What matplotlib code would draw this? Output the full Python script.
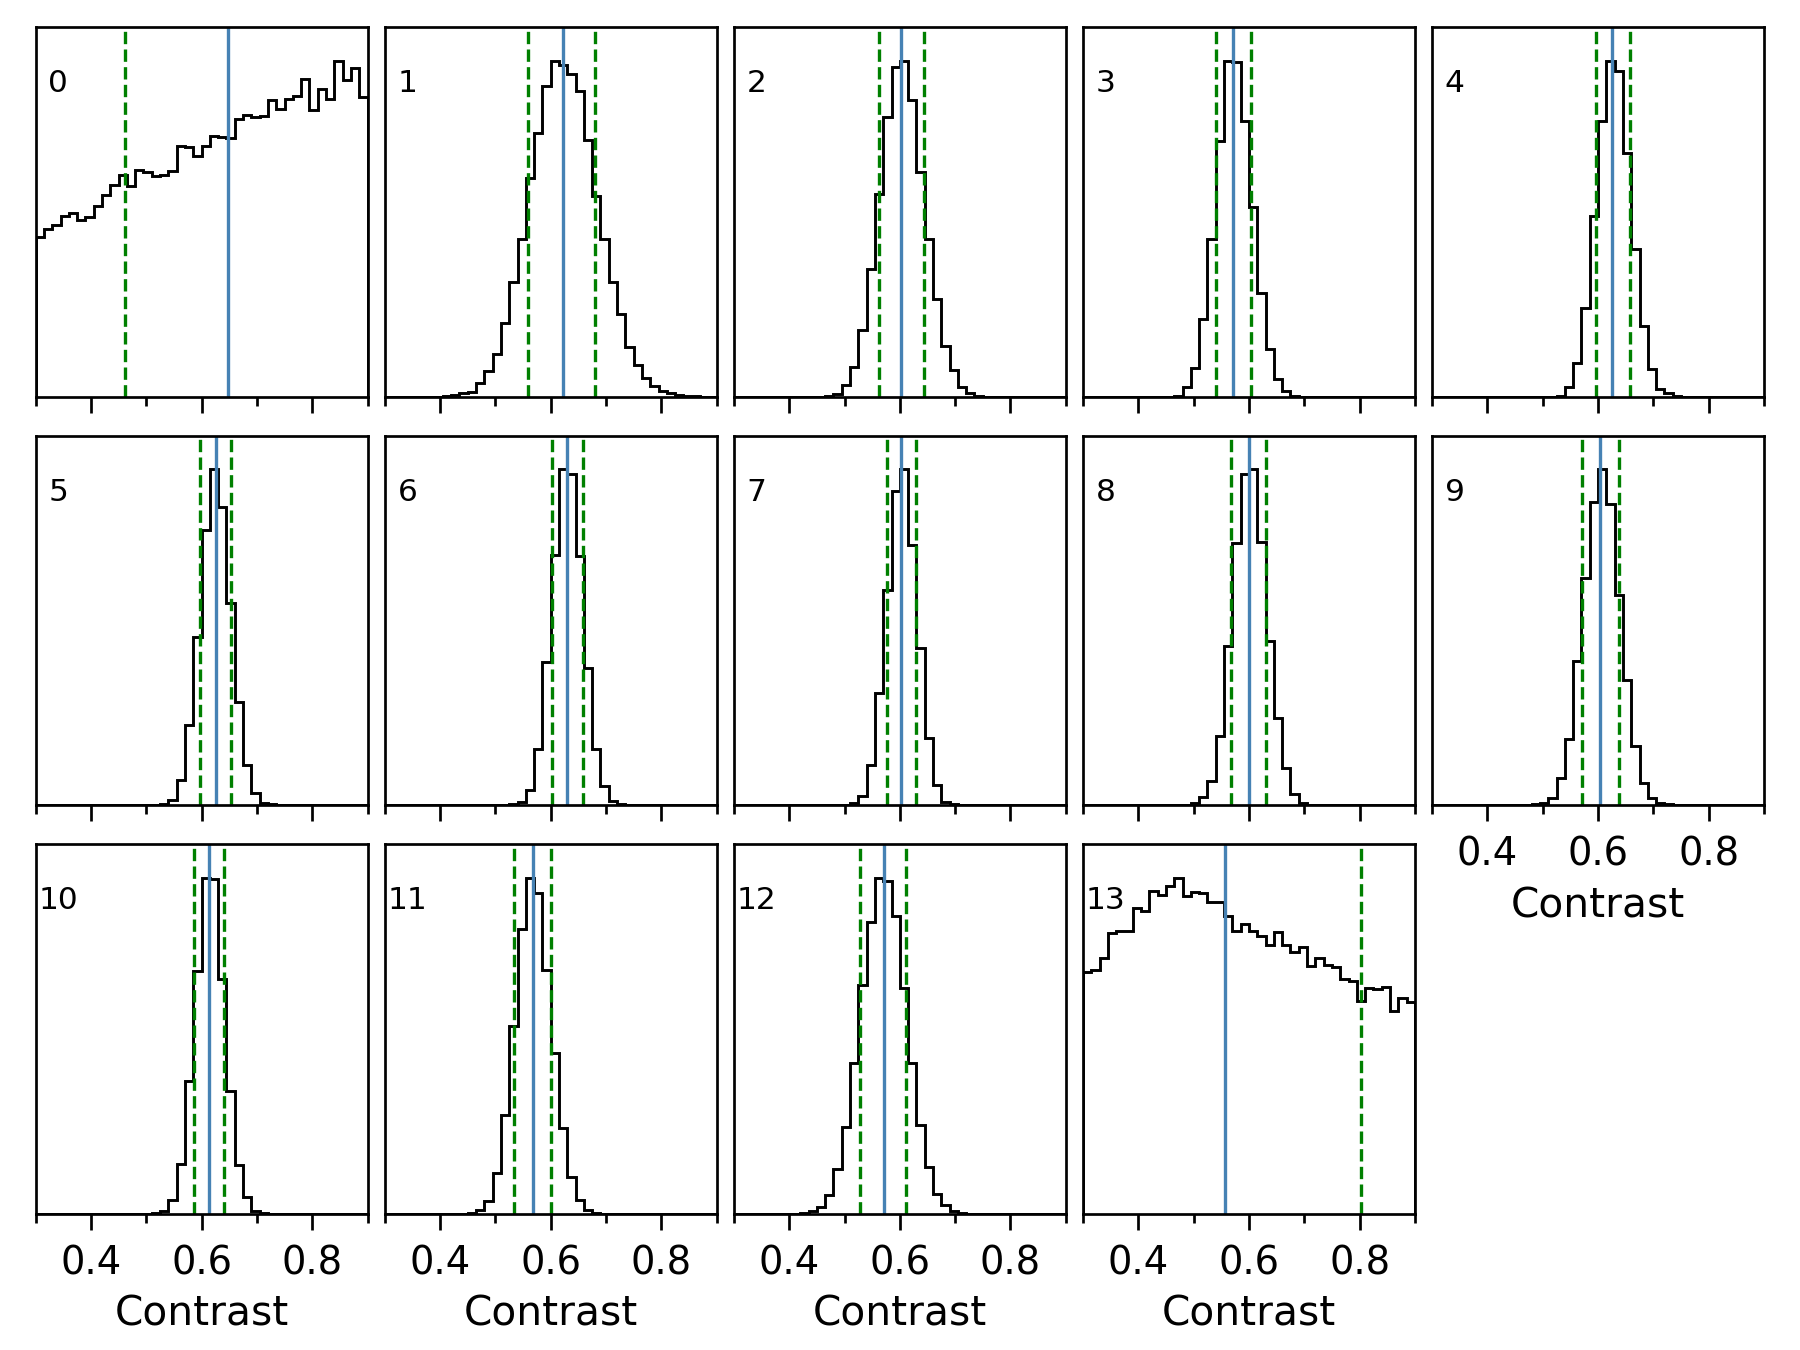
import numpy as np
import matplotlib
matplotlib.use("Agg")
import matplotlib.pyplot as plt
from matplotlib.ticker import MultipleLocator

# common bins, 0.015 wide, over the plotted contrast range
edges = np.round(np.linspace(0.3, 0.9, 41), 3)

# counts per bin (scaled so the tallest bin is ~1000)
h0 = [481, 503, 515, 543, 551, 530, 541, 573, 605, 635, 666, 633, 680, 676, 663, 666, 678, 753, 750, 723,
      753, 785, 780, 778, 836, 848, 841, 845, 891, 866, 895, 905, 956, 863, 926, 896, 1010, 953, 987, 900]
h1 = [0, 0, 0, 0, 0, 0, 0, 1, 5, 10, 15, 40, 78, 128, 223, 346, 473, 656, 793, 935,
      1010, 996, 971, 918, 773, 603, 475, 346, 248, 150, 96, 56, 33, 18, 10, 6, 3, 1, 0, 0]
h2 = [0, 0, 0, 0, 0, 0, 0, 0, 0, 0, 0, 3, 8, 36, 90, 200, 385, 610, 841, 991,
      1010, 893, 676, 475, 293, 153, 80, 30, 10, 3, 0, 0, 0, 0, 0, 0, 0, 0, 0, 0]
h3 = [0, 0, 0, 0, 0, 0, 0, 0, 0, 0, 0, 3, 28, 86, 235, 475, 768, 1010, 1005, 828,
      571, 313, 145, 53, 18, 3, 0, 0, 0, 0, 0, 0, 0, 0, 0, 0, 0, 0, 0, 0]
h4 = [0, 0, 0, 0, 0, 0, 0, 0, 0, 0, 0, 0, 0, 0, 0, 3, 30, 103, 268, 543,
      828, 1010, 978, 733, 445, 213, 83, 23, 10, 3, 0, 0, 0, 0, 0, 0, 0, 0, 0, 0]
h5 = [0, 0, 0, 0, 0, 0, 0, 0, 0, 0, 0, 0, 0, 0, 0, 5, 15, 78, 243, 508,
      831, 1013, 900, 611, 311, 121, 38, 8, 3, 0, 0, 0, 0, 0, 0, 0, 0, 0, 0, 0]
h6 = [0, 0, 0, 0, 0, 0, 0, 0, 0, 0, 0, 0, 0, 0, 1, 4, 10, 46, 171, 433,
      755, 1013, 998, 753, 415, 171, 58, 13, 3, 2, 0, 0, 0, 0, 0, 0, 0, 0, 0, 0]
h7 = [0, 0, 0, 0, 0, 0, 0, 0, 0, 0, 0, 0, 0, 2, 6, 28, 121, 338, 650, 948,
      1013, 785, 475, 203, 63, 10, 3, 2, 0, 0, 0, 0, 0, 0, 0, 0, 0, 0, 0, 0]
h8 = [0, 0, 0, 0, 0, 0, 0, 0, 0, 0, 0, 0, 2, 6, 25, 75, 208, 480, 791, 998,
      1013, 795, 495, 263, 113, 35, 8, 2, 0, 0, 0, 0, 0, 0, 0, 0, 0, 0, 0, 0]
h9 = [0, 0, 0, 0, 0, 0, 0, 0, 0, 0, 0, 0, 3, 6, 23, 83, 201, 435, 685, 915,
      1013, 908, 633, 378, 178, 68, 21, 6, 3, 2, 0, 0, 0, 0, 0, 0, 0, 0, 0, 0]
h10 = [0, 0, 0, 0, 0, 0, 0, 0, 0, 0, 0, 0, 0, 0, 3, 8, 41, 151, 398, 728,
       1008, 1005, 706, 368, 148, 51, 8, 3, 0, 0, 0, 0, 0, 0, 0, 0, 0, 0, 0, 0]
h11 = [0, 0, 0, 0, 0, 0, 0, 0, 0, 0, 3, 11, 38, 123, 298, 566, 856, 1011, 965, 733,
       483, 258, 110, 41, 11, 3, 0, 0, 0, 0, 0, 0, 0, 0, 0, 0, 0, 0, 0, 0]
h12 = [0, 0, 0, 0, 0, 0, 0, 0, 3, 8, 20, 56, 135, 261, 453, 688, 878, 1011, 1003, 895,
       680, 453, 268, 143, 60, 26, 8, 3, 0, 0, 0, 0, 0, 0, 0, 0, 0, 0, 0, 0]
h13 = [717, 722, 757, 832, 837, 839, 905, 897, 955, 945, 972, 995, 940, 954, 949, 925, 925, 882, 839, 859,
       839, 822, 797, 834, 797, 775, 789, 735, 759, 737, 732, 697, 689, 632, 670, 667, 672, 602, 639, 629]
hists = [h0, h1, h2, h3, h4, h5, h6, h7, h8, h9, h10, h11, h12, h13]

# median (solid) and lower/upper percentile (dashed); None = outside the range
median = [0.648, 0.623, 0.6025, 0.5715, 0.6253, 0.6258, 0.630, 0.603, 0.600, 0.604, 0.6126, 0.5678, 0.5706, 0.556]
lower = [0.461, 0.559, 0.562, 0.540, 0.596, 0.598, 0.602, 0.576, 0.568, 0.571, 0.587, 0.534, 0.528, None]
upper = [None, 0.681, 0.643, 0.604, 0.658, 0.653, 0.659, 0.630, 0.630, 0.637, 0.641, 0.600, 0.611, 0.8025]

fig, axes = plt.subplots(3, 5, sharex=True, figsize=(12, 9), dpi=150)
fig.subplots_adjust(left=0.0198, right=0.980, top=0.980, bottom=0.1007, wspace=0.052, hspace=0.105)

for i, ax in enumerate(axes.flat[:14]):
    counts = np.array(hists[i])
    ax.stairs(counts, edges, color="k", lw=1.4)
    ax.axvline(median[i], color="steelblue", lw=1.6)
    for v in (lower[i], upper[i]):
        if v is not None:
            ax.axvline(v, color="g", ls="--", lw=1.6)
    ax.set_ylim(0, 1.1 * counts.max())
    ax.set_xlim(0.3, 0.9)
    ax.set_yticks([])
    ax.xaxis.set_major_locator(MultipleLocator(0.2))
    ax.xaxis.set_minor_locator(MultipleLocator(0.1))
    ax.tick_params(axis="x", which="major", length=7.5, width=1.3, labelsize=18.5, pad=7)
    ax.tick_params(axis="x", which="minor", length=4.3, width=1.3)
    for sp in ax.spines.values():
        sp.set_linewidth(1.3)
    ax.text(0.068, 0.847, str(i), transform=ax.transAxes, ha="center", va="center", fontsize=15)

axes[2, 4].remove()
axes[1, 4].tick_params(labelbottom=True)
for ax in list(axes[2, :4]) + [axes[1, 4]]:
    ax.set_xlabel("Contrast", fontsize=19.5, labelpad=6)

fig.savefig("out.png", dpi=150)
